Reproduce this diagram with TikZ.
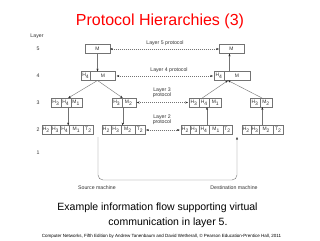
\documentclass[tikz,border=0pt]{standalone}
\usepackage{fontspec}
\setmainfont{Liberation Sans}
\usetikzlibrary{arrows.meta}
\begin{document}
\begin{tikzpicture}[x=1pt,y=-1pt,
  cell/.style={draw=black!55, line width=0.4pt, minimum height=9pt, inner sep=0pt, outer sep=0pt, anchor=west, font=\fontsize{5}{6}\selectfont, text=black!80},
  lbl/.style={font=\fontsize{5.2}{6}\selectfont, text=black!80, inner sep=0pt, align=center},
  arr/.style={draw=black!55, line width=0.4pt, -{Stealth[length=2.8pt,width=2pt,black!85]}},
  proto/.style={draw=black!55, line width=0.4pt, dash pattern=on 1pt off 1pt, {Stealth[length=2.8pt,width=2pt,black!85]}-{Stealth[length=2.8pt,width=2pt,black!85]}}]
\useasboundingbox (0,0) rectangle (320,240);
\fill[white] (0,0) rectangle (320,240);
% title
\node[text=red, font=\fontsize{16}{18}\selectfont, inner sep=0pt] (title) at (160,21) {Protocol Hierarchies (3)};
% layer labels
\node[lbl] (lay) at (37,36) {Layer};
\node[lbl] (n5) at (38,49) {5};
\node[lbl] (n4) at (38,76) {4};
\node[lbl] (n3) at (38,102.5) {3};
\node[lbl] (n2) at (38,130) {2};
\node[lbl] (n1) at (38,153) {1};
% ---------- source machine ----------
\node[cell, minimum width=25pt] (sM5) at (85,49) {M};
\node[cell, minimum width=9.5pt] (sH4a) at (81,76) {H\textsubscript{4}};
\node[cell, minimum width=25pt] (sM4) at (sH4a.east) {M};
% layer 3
\node[cell, minimum width=9.7pt] (s3aH3) at (51,102.5) {H\textsubscript{3}};
\node[cell, minimum width=10pt] (s3aH4) at (s3aH3.east) {H\textsubscript{4}};
\node[cell, minimum width=11pt] (s3aM1) at (s3aH4.east) {M\textsubscript{1}};
\node[cell, minimum width=10pt] (s3bH3) at (111.7,102.5) {H\textsubscript{3}};
\node[cell, minimum width=14pt] (s3bM2) at (s3bH3.east) {M\textsubscript{2}};
% layer 2
\node[cell, minimum width=9.2pt] (s2aH2) at (41.7,130) {H\textsubscript{2}};
\node[cell, minimum width=9.2pt] (s2aH3) at (s2aH2.east) {H\textsubscript{3}};
\node[cell, minimum width=9.3pt] (s2aH4) at (s2aH3.east) {H\textsubscript{4}};
\node[cell, minimum width=14pt] (s2aM1) at (s2aH4.east) {M\textsubscript{1}};
\node[cell, minimum width=10pt] (s2aT2) at (s2aM1.east) {T\textsubscript{2}};
\node[cell, minimum width=9.3pt] (s2bH2) at (101.7,130) {H\textsubscript{2}};
\node[cell, minimum width=9.7pt] (s2bH3) at (s2bH2.east) {H\textsubscript{3}};
\node[cell, minimum width=14.3pt] (s2bM2) at (s2bH3.east) {M\textsubscript{2}};
\node[cell, minimum width=10pt] (s2bT2) at (s2bM2.east) {T\textsubscript{2}};
% ---------- destination machine ----------
\node[cell, minimum width=25pt] (dM5) at (219,49) {M};
\node[cell, minimum width=10pt] (dH4a) at (214,76) {H\textsubscript{4}};
\node[cell, minimum width=26pt] (dM4) at (dH4a.east) {M};
\node[cell, minimum width=10pt] (d3aH3) at (189,102.5) {H\textsubscript{3}};
\node[cell, minimum width=10.5pt] (d3aH4) at (d3aH3.east) {H\textsubscript{4}};
\node[cell, minimum width=12pt] (d3aM1) at (d3aH4.east) {M\textsubscript{1}};
\node[cell, minimum width=10pt] (d3bH3) at (250,102.5) {H\textsubscript{3}};
\node[cell, minimum width=12pt] (d3bM2) at (d3bH3.east) {M\textsubscript{2}};
\node[cell, minimum width=9.3pt] (d2aH2) at (180.7,130) {H\textsubscript{2}};
\node[cell, minimum width=9pt] (d2aH3) at (d2aH2.east) {H\textsubscript{3}};
\node[cell, minimum width=10pt] (d2aH4) at (d2aH3.east) {H\textsubscript{4}};
\node[cell, minimum width=14.3pt] (d2aM1) at (d2aH4.east) {M\textsubscript{1}};
\node[cell, minimum width=8.4pt] (d2aT2) at (d2aM1.east) {T\textsubscript{2}};
\node[cell, minimum width=9pt] (d2bH2) at (241.7,130) {H\textsubscript{2}};
\node[cell, minimum width=8.6pt] (d2bH3) at (d2bH2.east) {H\textsubscript{3}};
\node[cell, minimum width=14pt] (d2bM2) at (d2bH3.east) {M\textsubscript{2}};
\node[cell, minimum width=10pt] (d2bT2) at (d2bM2.east) {T\textsubscript{2}};
% ---------- source arrows ----------
\draw[arr] (sM5.south) -- (sM5.south |- sM4.north);
\draw[arr] (sM5.south |- sM4.south) -- ([xshift=2.5pt]s3aH4.north);
\draw[arr] (sM5.south |- sM4.south) -- ([xshift=1pt]s3bM2.north west);
\draw[arr] ([xshift=2.5pt]s3aH4.south) -- ([xshift=2.5pt]s3aH4.south |- s2aH4.north);
\draw[arr] ([xshift=1pt]s3bM2.south west) -- ([xshift=1pt]s3bM2.south west |- s2bM2.north);
% ---------- destination arrows ----------
\draw[arr] ([xshift=-2pt]dM5.south |- dM4.north) -- ([xshift=-2pt]dM5.south);
\draw[arr] ([xshift=-2pt]d3aH4.north) -- ([xshift=-9pt]dM4.south);
\draw[arr] ([xshift=2pt]d3bM2.north west) -- ([xshift=-9pt]dM4.south);
\draw[arr] ([xshift=-2pt]d2aH4.north east) -- ([xshift=-2pt]d2aH4.north east |- d3aH4.south);
\draw[arr] ([xshift=3pt]d2bM2.north west) -- ([xshift=3pt]d2bM2.north west |- d3bM2.south);
% ---------- physical path ----------
\coordinate (pstart) at (98,137);
\coordinate (pend) at (237,137);
\draw[arr, rounded corners=5pt] (pstart) -- (98,180) -- (237,180) -- (pend);
% ---------- protocols ----------
\draw[proto] (sM5.east) -- (dM5.west);
\draw[proto] ([xshift=1pt]sM4.east) -- ([xshift=-1pt]dH4a.west);
\draw[proto] ([xshift=1pt]s3bM2.east) -- ([xshift=-1pt]d3aH3.west);
\draw[proto] ([xshift=1pt]s2bT2.east) -- ([xshift=-1pt]d2aH2.west);
\node[lbl] (p5) at (165,43) {Layer 5 protocol};
\node[lbl] (p4) at (169,70) {Layer 4 protocol};
\node[lbl] (p3) at (162,93) {Layer 3\\[-0.6pt]protocol};
\node[lbl] (p2) at (162,119.5) {Layer 2\\[-0.6pt]protocol};
\node[lbl] (src) at (97,188) {Source machine};
\node[lbl] (dst) at (234,188) {Destination machine};
% caption
\node[font=\fontsize{10.5}{12}\selectfont, inner sep=0pt] (cap1) at (157.5,208) {Example information flow supporting virtual};
\node[font=\fontsize{10.5}{12}\selectfont, inner sep=0pt] (cap2) at (168,223) {communication in layer 5.};
\node[font=\fontsize{4.5}{5}\selectfont, inner sep=0pt] (foot) at (161.5,236.5) {Computer Networks, Fifth Edition by Andrew Tanenbaum and David Wetherall, © Pearson Education-Prentice Hall, 2011};
\end{tikzpicture}
\end{document}
